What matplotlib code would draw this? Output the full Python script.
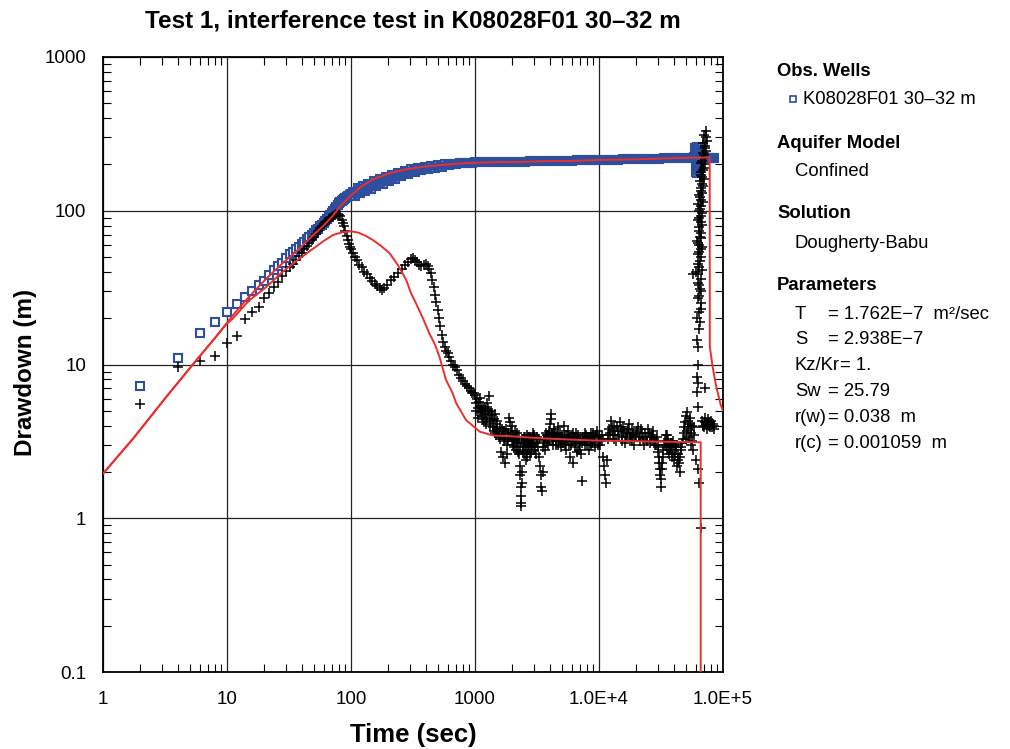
import matplotlib

matplotlib.use("Agg")
import matplotlib.pyplot as plt
from matplotlib.lines import Line2D
from matplotlib.ticker import LogLocator, NullFormatter

plt.rcParams["font.family"] = ["Liberation Sans", "DejaVu Sans"]

# observed drawdown (blue squares), early samples every 2 s
obs_early_t = [2, 4, 6, 8, 10, 12, 14, 16, 18, 20, 22, 24, 26, 28, 30, 32, 34, 36, 38, 40,
               42, 44, 46, 48, 50, 52, 54, 56, 58, 60, 62, 64, 66, 68, 70, 72, 74, 76, 78, 80,
               82, 84, 86, 88, 90, 92, 94, 96, 98, 100]
obs_early_s = [7.2, 11.1, 16.0, 19.0, 21.8, 24.6, 27.4, 30.2, 32.7, 35, 38, 41, 43.5, 46, 49.5,
               52, 54, 56.5, 58.5, 61, 63, 65.5, 68, 70, 72, 74.5, 76.5, 79, 81, 83.5, 86, 88.5,
               91, 94, 97, 100, 103, 106, 109, 112, 114, 116, 118, 119.5, 121, 122.5, 124, 125,
               126.5, 128]
obs_late_t = [104, 108, 113, 118, 124, 130, 137, 144, 152, 160, 170, 180, 190, 202, 214, 227,
              240, 255, 270, 287, 305, 325, 345, 368, 392, 418, 445, 475, 505, 540, 575, 615,
              660, 705, 760, 820, 880, 950, 1000, 1100, 1200, 1320, 1450, 1600, 1750, 1920,
              2100, 2300, 2550, 2800, 3100, 3400, 3750, 4100, 4500, 5000, 5500, 6000, 6600,
              7300, 8000, 8800, 9700, 10700, 11800, 13000, 14300, 15700, 17300, 19000, 21000,
              23000, 25300, 27800, 30600, 33700, 37000, 40700, 44800, 49300, 54200, 58000,
              59500, 60000, 60500, 61000, 61500, 62000, 62500, 63000, 63500, 64000, 65000,
              67000, 70000, 73000, 76000, 79000, 82000, 85000]
obs_late_s = [133, 125, 140, 130, 144, 134, 150, 139, 155, 144, 160, 150, 166, 156, 172, 162,
              177, 168, 182, 174, 186, 179, 190, 184, 193, 188, 196, 191, 198, 194, 200, 197,
              202, 200, 204, 203, 205, 205, 206, 206, 207, 207, 207, 208, 208, 208,
              209, 209, 209, 210, 210, 210, 211, 211, 211, 212, 212, 212, 213,
              213, 213, 214, 214, 214, 215, 215, 215, 216, 216, 216, 217,
              217, 218, 218, 218, 219, 219, 220, 220, 221, 221, 222,
              255, 180, 240, 195, 260, 176, 230, 200, 245, 185, 222,
              222, 222, 221, 221, 220, 220, 219]

# derivative (black crosses)
der_early_s = [5.5, 9.7, 10.6, 11.4, 13.9, 15.4, 19.7, 21.9, 23.8, 27.1, 29, 31.8, 34.6, 37.4,
               40.4, 43, 45, 48, 50.8, 53, 56, 59, 62, 65, 68, 71, 74, 77, 79, 82, 84, 86, 88,
               90, 91, 92.5, 94, 95.3, 95.5, 94.5, 92, 87, 83, 79, 74, 69, 65, 61, 58, 56]
der_hump_t = [104, 108, 112, 117, 122, 128, 134, 141, 148, 155, 162, 170, 178, 186, 195, 210,
              224, 240, 256, 272, 290, 305, 316, 328, 340, 355, 370, 385, 400, 415, 428, 440,
              452, 464, 476, 488, 500, 512, 525, 540, 555, 570, 585, 600, 620, 640, 660, 685,
              710, 740, 770, 800, 830, 860, 890, 920, 950, 980]
der_hump_s = [53, 50, 47.5, 44.5, 43, 40, 38.5, 36.4, 35, 33.5, 32.3, 31.3, 30.7, 31.5, 33,
              35.5, 37.3, 39.5, 42, 44.4, 46.5, 48.5, 49, 48, 46.5, 44.5, 44, 44.6, 44.8, 43.5,
              42, 39.5, 35.5, 32, 28.5, 25.5, 22.5, 20, 17.8, 15.5, 14, 13, 12.3, 11.8, 11.2,
              10.5, 10, 9.6, 9.2, 8.6, 8.2, 7.8, 7.5, 7.2, 7.0, 6.7, 6.5, 6.5]
der_noise = [
    (1000, 6.3), (1020, 5.6), (1040, 6.0), (1060, 5.2), (1080, 5.7), (1100, 4.9), (1120, 5.4),
    (1140, 4.6), (1170, 5.1), (1190, 4.2), (1210, 4.8), (1240, 5.6), (1260, 4.5), (1290, 4.9),
    (1300, 6.2), (1330, 4.3), (1360, 4.7), (1390, 3.9), (1420, 4.4), (1450, 3.6), (1480, 4.1),
    (1510, 3.8), (1550, 3.4), (1580, 3.9), (1610, 2.7), (1640, 3.5), (1670, 2.5), (1700, 3.7),
    (1730, 2.3), (1760, 3.3), (1800, 3.0), (1840, 3.6), (1880, 4.5), (1910, 4.2), (1950, 3.7),
    (1990, 3.2), (2030, 3.5), (2070, 2.9), (2110, 3.3), (2150, 2.8), (2190, 3.6), (2230, 3.1),
    (2270, 2.6), (2300, 2.2), (2320, 1.9), (2330, 1.6), (2340, 1.4), (2350, 1.25), (2360, 1.2),
    (2370, 1.7), (2380, 2.0), (2420, 2.9), (2460, 3.4), (2500, 2.6), (2540, 3.0), (2580, 2.4),
    (2620, 3.5), (2660, 2.8), (2700, 3.2), (2750, 2.6), (2800, 3.4), (2860, 3.0), (2920, 3.6),
    (2980, 2.8), (3040, 3.3), (3100, 2.6), (3170, 3.1), (3250, 2.5), (3330, 2.2), (3380, 1.9),
    (3420, 1.6), (3460, 1.5), (3500, 2.0), (3560, 2.9), (3620, 3.3), (3700, 3.6), (3780, 3.1),
    (3860, 3.4), (3940, 3.7), (4020, 4.1), (4080, 4.8), (4120, 4.4), (4200, 3.5), (4280, 3.2),
    (4370, 3.8), (4460, 3.0), (4550, 3.4), (4650, 3.9), (4750, 3.2), (4850, 3.6), (4960, 2.9),
    (5070, 3.3), (5180, 4.0), (5300, 3.5), (5420, 2.8), (5540, 3.2), (5670, 3.7), (5800, 2.5),
    (5930, 3.0), (6070, 3.4), (6210, 2.3), (6360, 3.1), (6500, 3.6), (6650, 2.7), (6800, 3.3),
    (6960, 3.0), (7150, 2.6), (7300, 1.76), (7450, 3.4), (7650, 3.0), (7850, 3.5), (8050, 3.2),
    (8300, 2.8), (8550, 3.6), (8800, 3.1), (9050, 3.4), (9300, 2.9), (9600, 3.7), (9900, 3.2),
    (10200, 3.0), (10500, 3.5), (10800, 2.5), (11000, 2.2), (11200, 1.9), (11400, 1.7),
    (11600, 2.4), (11800, 3.3), (12100, 3.8), (12500, 4.3), (12900, 3.5), (13300, 4.0),
    (13700, 3.2), (14200, 3.7), (14700, 4.2), (15200, 3.4), (15700, 3.9), (16200, 3.1),
    (16800, 3.6), (17400, 4.1), (18000, 3.3), (18600, 3.8), (19300, 3.0), (20000, 3.5),
    (20700, 3.9), (21400, 3.2), (22200, 3.6), (23000, 3.0), (23800, 3.4), (24700, 3.8),
    (25600, 3.1), (26500, 3.5), (27500, 3.3), (28500, 3.0), (29300, 3.4), (30000, 2.7),
    (30600, 2.3), (31200, 1.9), (31800, 1.6), (32400, 2.1), (33000, 2.5), (33700, 3.0),
    (34400, 3.5), (35200, 2.8), (36000, 3.3), (36900, 2.6), (37800, 3.1), (38700, 2.7),
    (39600, 3.2), (40500, 2.4), (41500, 2.9), (42500, 2.2), (43500, 2.6), (44600, 2.0),
    (45700, 2.8), (46800, 3.1), (48000, 3.6), (49200, 4.2), (50400, 3.3), (51500, 4.9),
    (52600, 3.8), (53700, 4.5), (54800, 3.0), (56000, 4.0), (57200, 2.8), (58300, 3.5),
    (68000, 4.3), (70000, 3.9), (71500, 4.5), (73000, 4.1), (74500, 3.8), (76000, 4.4),
    (77500, 4.0), (79000, 4.2), (81000, 3.9), (83000, 4.1), (85000, 3.8),
]
der_noise_extra = [
    (1010, 5.0), (1050, 4.5), (1090, 6.1), (1130, 5.0), (1160, 4.4), (1200, 5.3), (1230, 4.1),
    (1270, 5.1), (1310, 4.0), (1345, 5.0), (1375, 4.4), (1410, 3.7), (1440, 4.8), (1470, 3.5),
    (1500, 4.3), (1530, 3.6), (1600, 3.3), (1650, 3.8), (1720, 3.2), (1780, 3.8), (1820, 2.6),
    (1860, 3.3), (1930, 3.4), (1970, 4.0), (2010, 3.0), (2090, 3.7), (2170, 3.2), (2210, 2.7),
    (2250, 3.4), (2290, 2.9), (2400, 3.3), (2440, 2.7), (2480, 3.1), (2520, 3.4), (2560, 2.8),
    (2600, 3.2), (2640, 2.5), (2680, 3.4), (2720, 2.9), (2780, 3.1), (2830, 2.7), (2890, 3.3),
    (2950, 3.1), (3010, 3.5), (3070, 2.9), (3140, 3.4), (3210, 2.9), (3290, 3.3), (3590, 3.2),
    (3660, 2.8), (3740, 3.3), (3820, 3.5), (3900, 3.0), (3980, 3.3), (4160, 3.6), (4240, 3.0),
    (4330, 3.4), (4410, 3.6), (4500, 3.2), (4600, 3.5), (4700, 3.0), (4800, 3.4), (4900, 3.2),
    (5010, 3.5), (5120, 3.1), (5240, 3.3), (5360, 3.0), (5480, 3.5), (5600, 3.3), (5730, 3.0),
    (5860, 3.4), (6000, 3.2), (6140, 3.6), (6290, 3.3), (6430, 2.9), (6570, 3.2), (6720, 3.5),
    (6880, 2.8), (7050, 3.3), (7230, 3.1), (7550, 3.2), (7750, 3.6), (7950, 3.0), (8180, 3.4),
    (8420, 3.3), (8680, 3.0), (8920, 3.6), (9180, 3.2), (9450, 3.5), (9750, 3.0), (10050, 3.4),
    (10350, 3.2), (10650, 3.3), (11900, 3.5), (12300, 3.6), (12700, 3.9), (13100, 3.3),
    (13500, 3.7), (13950, 4.0), (14450, 3.5), (14950, 3.8), (15450, 3.2), (15950, 3.7),
    (16500, 3.4), (17100, 3.8), (17700, 3.5), (18300, 3.2), (18900, 3.6), (19600, 3.4),
    (20300, 3.7), (21000, 3.4), (21800, 3.8), (22600, 3.3), (23400, 3.6), (24200, 3.2),
    (25100, 3.6), (26000, 3.4), (27000, 3.7), (28000, 3.2), (29000, 3.0), (29700, 2.9),
    (30300, 2.5), (30900, 2.1), (31500, 1.8), (32100, 2.3), (32700, 2.8), (34000, 3.2),
    (34800, 3.0), (35600, 3.5), (36400, 2.9), (37300, 2.8), (38200, 2.9), (39100, 2.5),
    (40000, 3.0), (41000, 2.6), (42000, 3.0), (43000, 2.4), (44000, 2.3), (45200, 2.5),
    (46200, 2.9), (47400, 3.3), (48600, 3.9), (49800, 4.6), (50900, 3.7), (52000, 4.3),
    (53200, 3.4), (54300, 4.1), (55400, 3.6), (56600, 3.2), (57800, 3.9), (69000, 4.0),
    (72000, 4.2), (75000, 4.1), (78000, 3.9), (80000, 4.3), (84000, 4.0),
]
der_recovery = [
    (57200, 39), (60500, 40), (61500, 8.3), (62000, 6.6), (63000, 7.6), (63000, 5.3),
    (62000, 14.5), (63000, 13), (62500, 10), (71600, 7.0), (61000, 2.4), (62500, 2.1),
    (64000, 1.7), (66500, 0.86), (64500, 17), (65500, 19), (63500, 22), (66000, 25),
    (64000, 28), (65000, 31), (62500, 34), (66500, 36), (63000, 39), (64000, 43), (65500, 47),
    (63000, 52), (66000, 56), (64500, 60), (62000, 64), (65000, 68), (67000, 72), (63500, 78),
    (66000, 84), (64500, 90), (68000, 96), (65000, 103), (63000, 110), (67000, 118),
    (64500, 126), (66500, 135), (69000, 145), (65500, 155), (68000, 165), (66000, 178),
    (70000, 190), (67000, 205), (71000, 220), (68500, 238), (72000, 255), (69500, 275),
    (73000, 300), (72500, 330), (62000, 20), (67000, 23), (63000, 27), (66500, 30),
    (64000, 33), (67500, 41), (62500, 45), (66500, 50), (64000, 54), (67500, 58), (63000, 62),
    (66000, 66), (64000, 74), (67500, 81), (62500, 87), (66500, 93), (63500, 99), (66500, 107),
    (68500, 114), (65500, 122), (68000, 131), (66000, 140), (67500, 150), (70000, 160),
    (66500, 170), (69000, 185), (71500, 200), (68000, 212), (70500, 230), (73500, 245),
    (71000, 265), (74000, 285), (70000, 310),
]

# Dougherty-Babu model curves (red)
model_t = [1, 1.75, 3.26, 5.68, 7.73, 9.9, 11.2, 15, 20.8, 28, 38.6, 50, 60, 71.5, 81, 97.7,
           120, 150, 204, 277, 380, 517, 700, 957, 1500, 2500, 3500, 6000, 10000, 20000,
           30000, 50000, 78000, 78200, 82000, 87400, 95800, 100000]
model_s = [1.95, 3.3, 6.2, 10.7, 14.4, 18.5, 21, 27.5, 36.3, 45.5, 57, 70, 80, 93, 106, 124,
           143, 160, 175, 186, 193, 198, 202, 205, 207, 208, 210, 211, 214, 216, 218, 221,
           222, 13.1, 9.9, 7.4, 5.45, 5.0]
model_der_t = [1, 1.75, 3.26, 5.68, 7.73, 9.9, 11.2, 15, 20.8, 28, 38.6, 50, 60, 71.5, 85,
               100, 115, 130, 150, 175, 205, 240, 279, 305, 334, 380, 427, 475, 517, 583, 660,
               705, 846, 1090, 1400, 1767, 3700, 9400, 31000, 66000, 66100]
model_der_s = [1.95, 3.3, 6.2, 10.7, 14.4, 18.3, 20, 26, 32, 40, 49, 57, 63.5, 69.5, 72.5,
               73.5, 72, 69, 64.5, 59, 52.9, 44, 35.4, 29, 25, 20, 16, 13.5, 11.2, 7.95, 6.5,
               5.6, 4.35, 3.66, 3.45, 3.43, 3.3, 3.2, 3.15, 3.12, 0.001]

x_ticks = [1, 10, 100, 1000, 1e4, 1e5]
x_tick_labels = ["1", "10", "100", "1000", "1.0E+4", "1.0E+5"]
y_ticks = [0.1, 1, 10, 100, 1000]
y_tick_labels = ["0.1", "1", "10", "100", "1000"]

blue = "#2E4E9E"
red = "#E8302E"

fig = plt.figure(figsize=(10.1, 7.49), dpi=100)
ax = fig.add_axes([0.102, 0.1028, 0.6139, 0.8211])

ax.plot(obs_early_t + obs_late_t, obs_early_s + obs_late_s, ls="none", marker="s", ms=5.5,
        mfc="white", mec=blue, mew=1.5, zorder=3)
# the late record is so dense that its squares merge into a solid band
ax.plot(obs_late_t, obs_late_s, color=blue, lw=5.5, solid_joinstyle="round", zorder=3.5)

der_pts = der_noise + der_noise_extra + der_recovery
der_t = obs_early_t + der_hump_t + [p[0] for p in der_pts]
der_s = der_early_s + der_hump_s + [p[1] for p in der_pts]
ax.plot(der_t, der_s, ls="none", marker="+", ms=6.5, mec="black", mew=1.1, zorder=3.6)

ax.plot(model_t, model_s, color=red, lw=1.4, zorder=4)
ax.plot(model_der_t, model_der_s, color=red, lw=1.4, zorder=4)

ax.set_xscale("log")
ax.set_yscale("log")
ax.set_xlim(1, 1e5)
ax.set_ylim(0.1, 1000)
ax.set_xticks(x_ticks, labels=x_tick_labels)
ax.set_yticks(y_ticks, labels=y_tick_labels)
ax.xaxis.set_minor_locator(LogLocator(base=10, subs=range(2, 10), numticks=20))
ax.yaxis.set_minor_locator(LogLocator(base=10, subs=range(2, 10), numticks=20))
ax.xaxis.set_minor_formatter(NullFormatter())
ax.yaxis.set_minor_formatter(NullFormatter())
ax.tick_params(which="both", direction="in", top=True, right=True, labelsize=13.5)
ax.tick_params(which="major", length=0)
ax.tick_params(axis="x", which="major", pad=14)
ax.tick_params(axis="y", which="major", pad=12)
ax.tick_params(which="minor", length=6, width=0.8)
ax.grid(True, which="major", color="#222222", lw=0.9)
for sp in ax.spines.values():
    sp.set_linewidth(1.3)

fig.text(0.409, 0.972, "Test 1, interference test in K08028F01 30\u201332 m",
         ha="center", va="center", fontsize=17.5, fontweight="bold")
fig.text(0.409, 0.019, "Time (sec)", ha="center", va="center", fontsize=18.5, fontweight="bold")
fig.text(0.025, 0.503, "Drawdown (m)", ha="center", va="center", rotation=90,
         fontsize=17.5, fontweight="bold")

# side panel
def ytop(px):
    return 1 - px / 749


fs = 13.3
x0 = 777 / 1010
x1 = 795 / 1010
x2 = 828 / 1010
fig.text(x0, ytop(72), "Obs. Wells", fontsize=fs, fontweight="bold", va="center")
fig.add_artist(Line2D([793 / 1010], [ytop(99)], transform=fig.transFigure, marker="s", ms=4,
                      mfc="white", mec=blue, mew=1.2, ls="none"))
fig.text(803 / 1010, ytop(100), "K08028F01 30\u201332 m", fontsize=fs, va="center")
fig.text(x0, ytop(143), "Aquifer Model", fontsize=fs, fontweight="bold", va="center")
fig.text(x1, ytop(172), "Confined", fontsize=fs, va="center")
fig.text(x0, ytop(213), "Solution", fontsize=fs, fontweight="bold", va="center")
fig.text(x1, ytop(243), "Dougherty-Babu", fontsize=fs, va="center")
fig.text(x0, ytop(285), "Parameters", fontsize=fs, fontweight="bold", va="center")

param_names = ["T", "S", "Sw", "r(w)", "r(c)"]
param_values = ["= 1.762E\u22127  m\u00b2/sec", "= 2.938E\u22127", "= 25.79", "= 0.038  m",
                "= 0.001059  m"]
param_rows = [315, 340, 391, 417, 443]
for name, val, row in zip(param_names, param_values, param_rows):
    fig.text(x1, ytop(row), name, fontsize=fs, va="center")
    fig.text(x2, ytop(row), val, fontsize=fs, va="center")
fig.text(x1, ytop(365), "Kz/Kr", fontsize=fs, va="center")
fig.text(840 / 1010, ytop(365), "= 1.", fontsize=fs, va="center")

fig.savefig("out.png", dpi=100)
